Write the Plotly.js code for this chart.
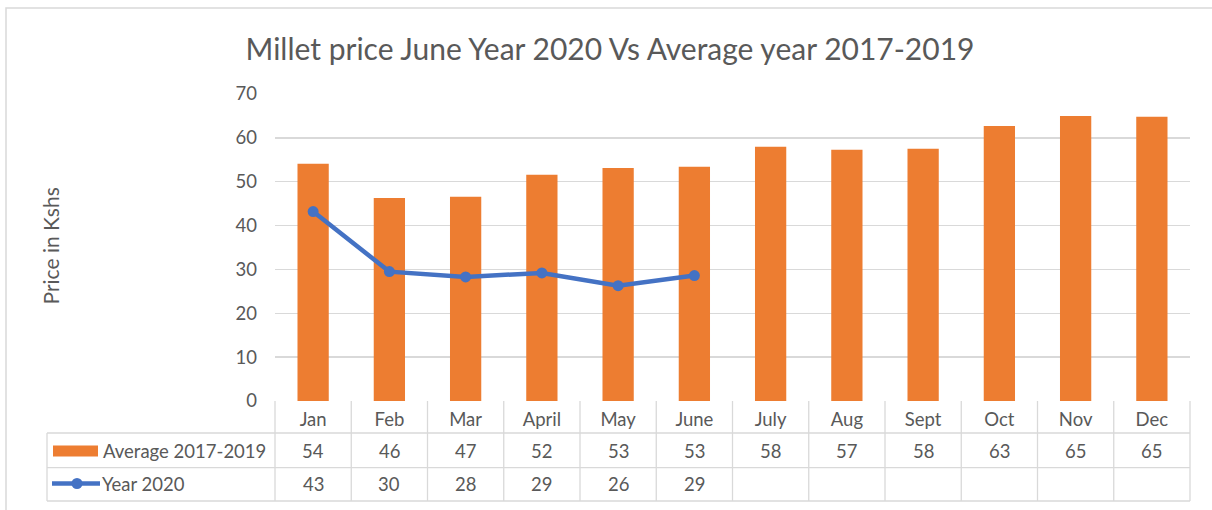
<!DOCTYPE html>
<html>
<head>
<meta charset="utf-8">
<script src="https://cdn.plot.ly/plotly-3.0.1.min.js"></script>
<style>html,body{margin:0;padding:0;background:#fff;}#chart{width:1212px;height:510px;}</style>
</head>
<body>
<div id="chart"></div>
<script>
const months = ["Jan","Feb","Mar","April","May","June","July","Aug","Sept","Oct","Nov","Dec"];
const avgName = "Average 2017-2019";
const avgValues = [54.1, 46.3, 46.6, 51.6, 53.1, 53.4, 58.0, 57.3, 57.5, 62.7, 65.0, 64.8];
const y2020Name = "Year 2020";
const y2020Values = [43.2, 29.5, 28.3, 29.2, 26.3, 28.6, null, null, null, null, null, null];
const yTicks = [0, 10, 20, 30, 40, 50, 60, 70];

const FONT = "Lato, 'Open Sans', sans-serif";
const TXT = "#595959";
const GRID = "#d9d9d9";
const ORANGE = "#ED7D31";
const BLUE = "#4472C4";

// pixel geometry helpers (plot area 275..1190 x, 94..401 y)
const L = 275, R = 1190, T = 94, B = 401, W = 1212, H = 510;
const px = x => (x - L) / (R - L);
const py = y => (B - y) / (B - T);

const n = months.length;
const shapes = [];
const lineStyle = {color: GRID, width: 1.3};
// outer chart border
shapes.push({type: "rect", xref: "paper", yref: "paper", x0: px(6), x1: px(1230), y0: py(530), y1: py(8), line: {color: GRID, width: 1.5}, fillcolor: "rgba(0,0,0,0)", layer: "below"});
// table vertical lines at category boundaries
for (let k = 0; k <= n; k++) {
  shapes.push({type: "line", xref: "paper", yref: "paper", x0: k / n, x1: k / n, y0: py(401), y1: py(501), line: lineStyle});
}
// legend column left line
shapes.push({type: "line", xref: "paper", yref: "paper", x0: px(47), x1: px(47), y0: py(433), y1: py(501), line: lineStyle});
// horizontal table lines
[433, 467.7, 501].forEach(yy => {
  shapes.push({type: "line", xref: "paper", yref: "paper", x0: px(47), x1: 1, y0: py(yy), y1: py(yy), line: lineStyle});
});
// legend swatches
shapes.push({type: "rect", xref: "paper", yref: "paper", x0: px(53), x1: px(98), y0: py(456.5), y1: py(445.5), fillcolor: ORANGE, line: {width: 0}});
shapes.push({type: "line", xref: "paper", yref: "paper", x0: px(52), x1: px(100), y0: py(483.5), y1: py(483.5), line: {color: BLUE, width: 4.5}});
shapes.push({type: "circle", xref: "paper", yref: "paper", x0: px(71.5), x1: px(82.5), y0: py(489), y1: py(478), fillcolor: BLUE, line: {width: 0}});

const FS = 18.5;
const annotations = [];
const cellFont = {family: FONT, size: FS, color: TXT};
avgValues.forEach((v, i) => {
  annotations.push({xref: "x", yref: "paper", x: months[i], y: py(450.5), text: String(Math.round(v)), showarrow: false, font: cellFont, xanchor: "center", yanchor: "middle"});
});
y2020Values.forEach((v, i) => {
  if (v === null) return;
  annotations.push({xref: "x", yref: "paper", x: months[i], y: py(484), text: String(Math.round(v)), showarrow: false, font: cellFont, xanchor: "center", yanchor: "middle"});
});
annotations.push({xref: "paper", yref: "paper", x: px(101), y: py(450.5), text: avgName, showarrow: false, font: cellFont, xanchor: "left", yanchor: "middle"});
annotations.push({xref: "paper", yref: "paper", x: px(100), y: py(484), text: y2020Name, showarrow: false, font: cellFont, xanchor: "left", yanchor: "middle"});
// y axis title
annotations.push({xref: "paper", yref: "paper", x: px(50), y: py(246.5), text: "Price in Kshs", textangle: -90, showarrow: false, font: {family: FONT, size: 21, color: TXT}, xanchor: "center", yanchor: "middle"});

const data = [
  {type: "bar", name: avgName, x: months, y: avgValues, marker: {color: ORANGE}, hoverinfo: "x+y"},
  {type: "scatter", mode: "lines+markers", name: y2020Name, x: months, y: y2020Values, line: {color: BLUE, width: 4.5}, marker: {color: BLUE, size: 11}, connectgaps: false}
];

const layout = {
  width: W, height: H,
  margin: {l: L, r: W - R, t: T, b: H - B, pad: 0},
  paper_bgcolor: "#ffffff",
  plot_bgcolor: "#ffffff",
  showlegend: false,
  bargap: 0.59,
  title: {text: "Millet price June Year 2020 Vs Average year 2017-2019", font: {family: FONT, size: 30, color: TXT}, x: 610 / W, xanchor: "center", xref: "container", y: 1 - 49 / H, yanchor: "middle", yref: "container"},
  xaxis: {
    type: "category", categoryarray: months, range: [-0.5, n - 0.5],
    showgrid: false, zeroline: false, showline: false, ticks: "",
    tickfont: {family: FONT, size: FS, color: TXT}, ticklabelstandoff: 5, fixedrange: true
  },
  yaxis: {
    range: [0, 70], tickvals: yTicks, ticktext: yTicks.map(String),
    showgrid: true, gridcolor: GRID, gridwidth: 1.3, zeroline: false, showline: false, ticks: "",
    tickfont: {family: FONT, size: FS, color: TXT}, ticklabelstandoff: 17, fixedrange: true
  },
  shapes: shapes,
  annotations: annotations
};

Plotly.newPlot("chart", data, layout, {displayModeBar: false, staticPlot: true});
</script>
</body>
</html>
